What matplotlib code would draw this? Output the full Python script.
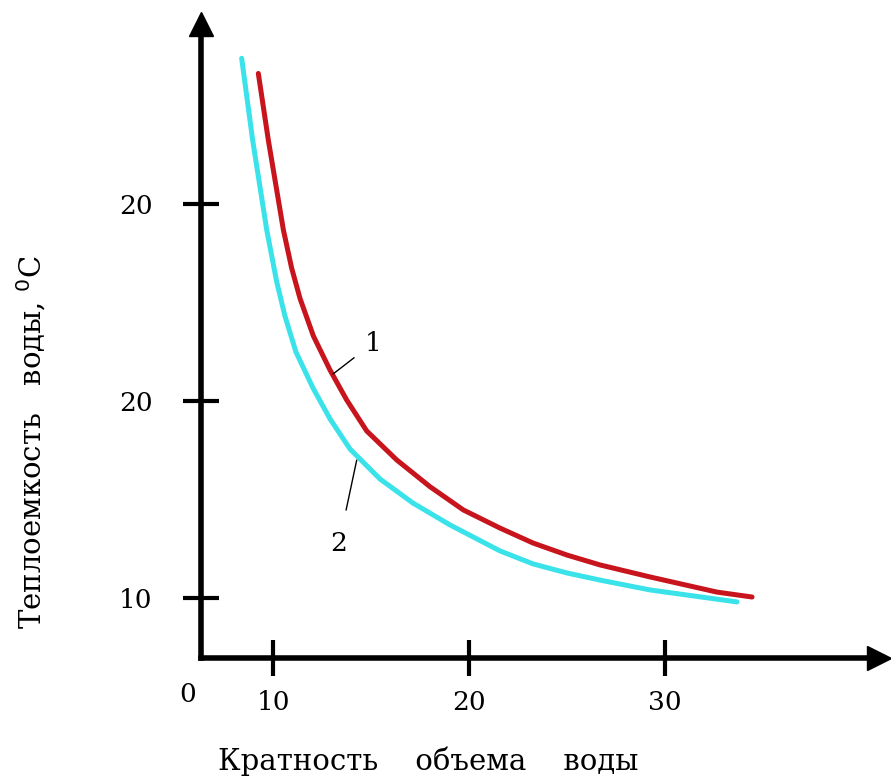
import matplotlib.pyplot as plt

# Кривая 1 (красная)
x1 = [9.25, 9.76, 10.53, 10.95, 11.38, 12.06, 12.91, 13.76, 14.78, 16.31, 18.01, 19.71,
      21.58, 23.27, 25.00, 26.68, 29.23, 32.65, 34.44]
y1 = [36.63, 33.25, 28.68, 26.75, 25.20, 23.30, 21.57, 20.05, 18.48, 17.01, 15.65, 14.47,
      13.55, 12.79, 12.18, 11.68, 11.07, 10.30, 10.05]

# Кривая 2 (голубая)
x2 = [8.40, 8.96, 9.68, 10.19, 10.61, 11.17, 12.04, 12.91, 13.93, 15.46, 17.14, 19.03,
      21.58, 23.27, 25.00, 26.68, 29.23, 33.67]
y2 = [37.40, 33.25, 28.68, 26.04, 24.31, 22.49, 20.66, 19.09, 17.56, 16.04, 14.82, 13.71,
      12.39, 11.73, 11.27, 10.91, 10.41, 9.80]

xTicks = [10, 20, 30]
xTickLabels = ["10", "20", "30"]
yTicks = [10, 20, 30]
yTickLabels = ["10", "20", "20"]

xOrigin = 6.33
yOrigin = 6.95

fig = plt.figure(figsize=(8.91, 7.8), dpi=100)
ax = fig.add_axes([0, 0, 1, 1])
ax.set_xlim(-3.93, 41.53)
ax.set_ylim(0.76, 40.36)

tickFont = dict(family="DejaVu Serif", size=19)
labelFont = dict(family="DejaVu Serif", size=21)

# Оси со стрелками
for side in ("top", "right"):
    ax.spines[side].set_visible(False)
ax.spines["left"].set_position(("data", xOrigin))
ax.spines["bottom"].set_position(("data", yOrigin))
ax.spines["left"].set_bounds(yOrigin, 39.1)
ax.spines["bottom"].set_bounds(xOrigin, 40.9)
for side in ("left", "bottom"):
    ax.spines[side].set_linewidth(4)
ax.plot(xOrigin, 39.15, marker="^", ms=17, color="black", clip_on=False)
ax.plot(40.9, yOrigin, marker=">", ms=17, color="black", clip_on=False)

ax.set_xticks(xTicks)
ax.set_xticklabels(xTickLabels, **tickFont)
ax.set_yticks(yTicks)
ax.set_yticklabels(yTickLabels, **tickFont)
ax.tick_params(axis="both", direction="inout", length=26, width=3)
ax.tick_params(axis="x", pad=10)
ax.tick_params(axis="y", pad=22)

ax.text(5.66, 5.08, "0", ha="center", va="center", **tickFont)

# Кривые
ax.plot(x1, y1, color="#c8141c", lw=3.6, solid_capstyle="round", solid_joinstyle="round")
ax.plot(x2, y2, color="#3ae2ea", lw=3.6, solid_capstyle="round", solid_joinstyle="round")

# Подписи кривых
ax.annotate("1", xy=(13.06, 21.37), xytext=(15.1, 22.94), ha="center", va="center",
            arrowprops=dict(arrowstyle="-", lw=1, color="black", shrinkA=7, shrinkB=0), **tickFont)
ax.annotate("2", xy=(14.27, 17.0), xytext=(13.37, 12.79), ha="center", va="center",
            arrowprops=dict(arrowstyle="-", lw=1, color="black", shrinkA=13, shrinkB=0), **tickFont)

# Подписи осей
ax.text(17.9, 1.73, "Кратность    объема    воды", ha="center", va="center", **labelFont)
ax.text(-2.35, 17.9, "Теплоемкость   воды, $^{0}$C", rotation=90, ha="center", va="center",
        **labelFont)

fig.savefig("out.png", dpi=100)
